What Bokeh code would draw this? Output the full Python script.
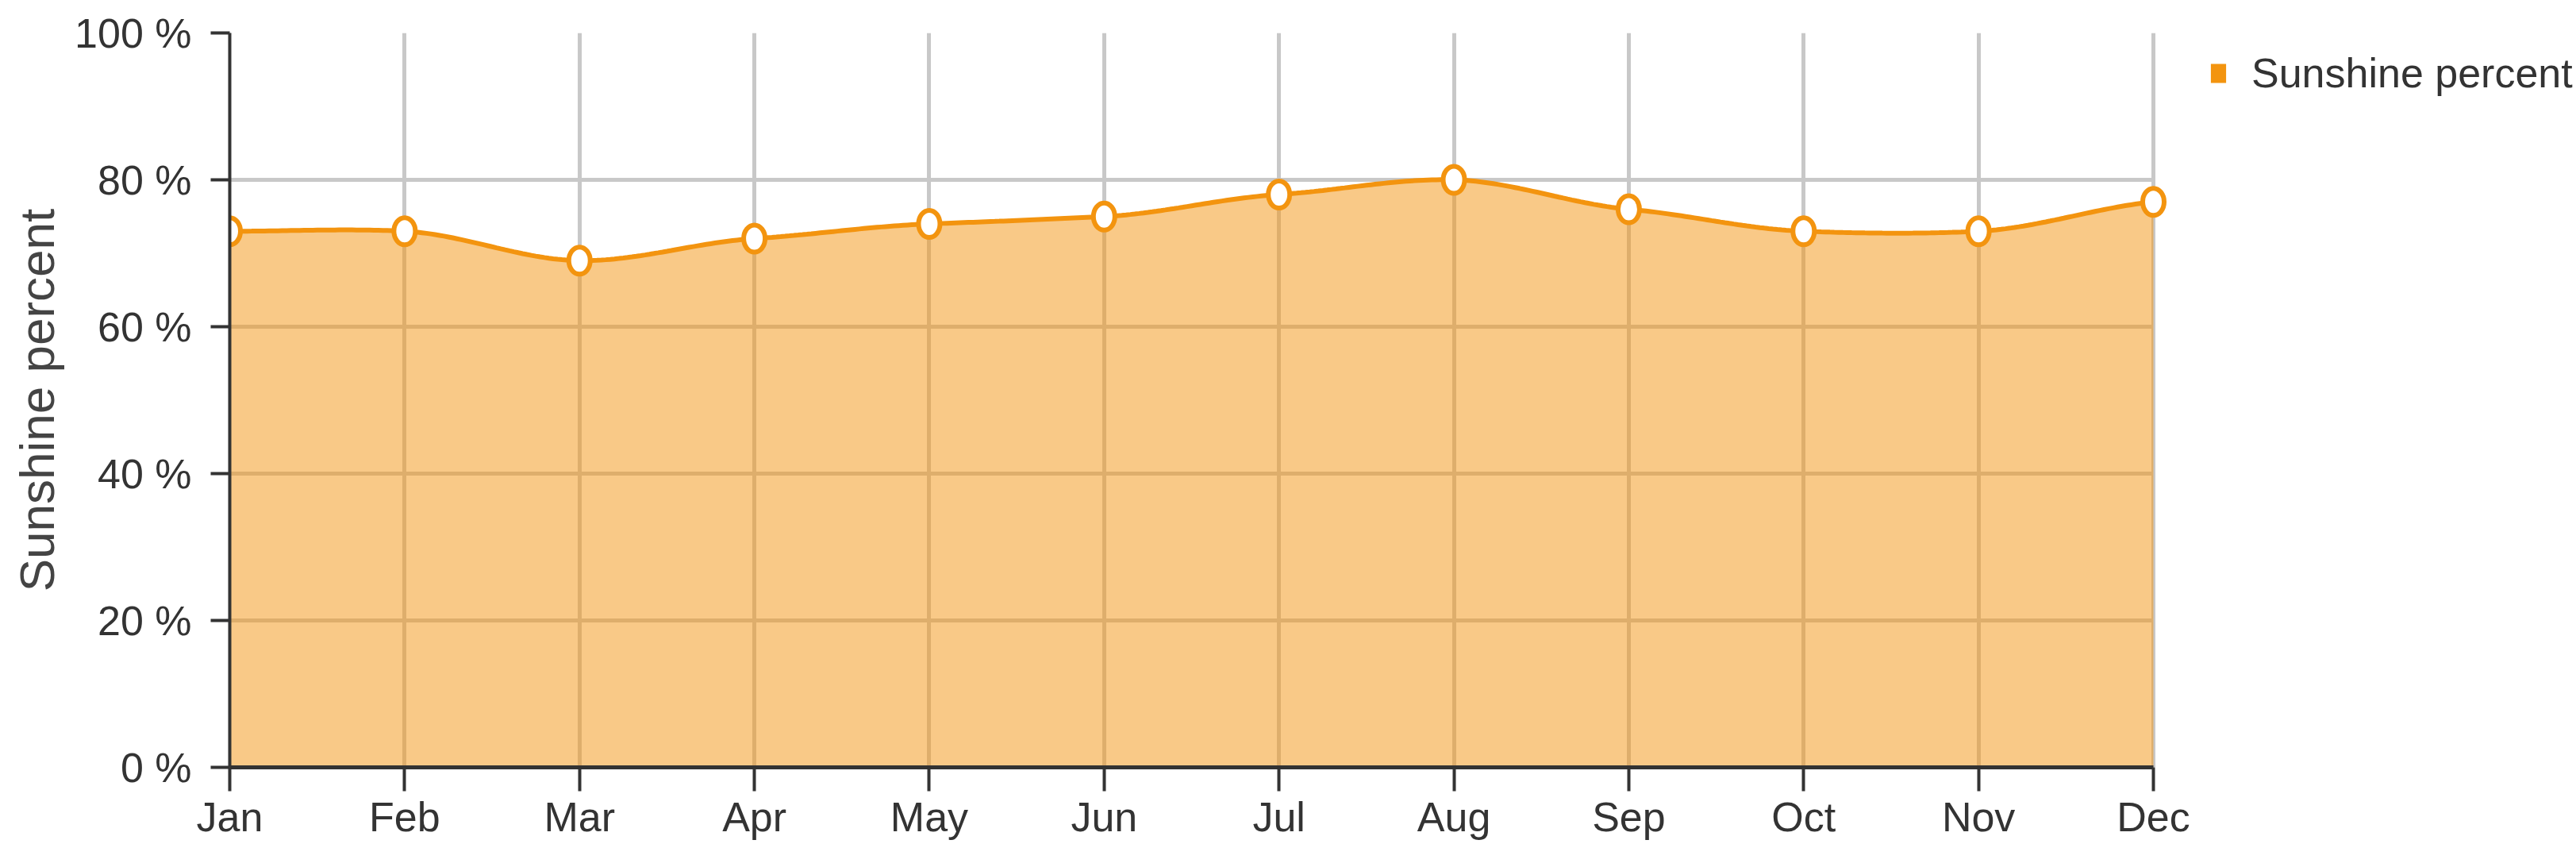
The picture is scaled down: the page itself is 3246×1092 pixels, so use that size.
import numpy as np
from bokeh.plotting import figure
from bokeh.models import (Range1d, FixedTicker, PrintfTickFormatter, Legend,
                          LegendItem, ColumnDataSource)
from bokeh.embed import file_html
from bokeh.resources import INLINE

# ---- data ----
months = ["Jan", "Feb", "Mar", "Apr", "May", "Jun",
          "Jul", "Aug", "Sep", "Oct", "Nov", "Dec"]
sunshine = [73, 73, 69, 72, 74, 75, 78, 80, 76, 73, 73, 77]
y_ticks = [0, 20, 40, 60, 80, 100]
series_name = "Sunshine percent"
y_title = "Sunshine percent"

ORANGE = "#f3940f"
TEXT = "#333333"
GRID = "#c8c8c8"
FONT = "Liberation Sans"

W, H = 3246, 1092
LEFT, RIGHT_DATA, TOP, BOTTOM = 289, 2713, 41, 966   # pixel layout of the plot area

x = np.arange(len(months), dtype=float)
y = np.array(sunshine, dtype=float)
last = float(len(months) - 1)
# the frame runs to the right edge so the legend (inside the frame) is not clipped
x_end = last * (W - LEFT) / (RIGHT_DATA - LEFT)


def spline(xs, ys, n=40, k=0.6):
    """Cubic Hermite curve through the data points (softened Catmull-Rom)."""
    m = np.zeros_like(ys)
    m[1:-1] = k * (ys[2:] - ys[:-2]) / (xs[2:] - xs[:-2])
    m[0] = k * (ys[1] - ys[0]) / (xs[1] - xs[0])
    m[-1] = k * (ys[-1] - ys[-2]) / (xs[-1] - xs[-2])
    ox, oy = [], []
    for i in range(len(xs) - 1):
        h = xs[i + 1] - xs[i]
        t = np.linspace(0, 1, n, endpoint=(i == len(xs) - 2))
        h00 = 2 * t**3 - 3 * t**2 + 1
        h10 = t**3 - 2 * t**2 + t
        h01 = -2 * t**3 + 3 * t**2
        h11 = t**3 - t**2
        ox.extend(xs[i] + t * h)
        oy.extend(h00 * ys[i] + h10 * h * m[i] + h01 * ys[i + 1] + h11 * h * m[i + 1])
    return np.array(ox), np.array(oy)


sx, sy = spline(x, y)
curve = ColumnDataSource(dict(x=sx, y=sy))
pts = ColumnDataSource(dict(x=x, y=y))

p = figure(width=W, height=H, output_backend="svg", toolbar_location=None,
           x_range=Range1d(0, x_end), y_range=Range1d(0, 100),
           min_border_left=LEFT, min_border_right=0,
           min_border_top=TOP, min_border_bottom=H - BOTTOM)
p.outline_line_color = None
p.background_fill_color = "white"
p.border_fill_color = "white"

# grid
p.xgrid.ticker = FixedTicker(ticks=list(x))
p.ygrid.ticker = FixedTicker(ticks=y_ticks)
p.ygrid.cross_bounds = (0, last)
for g in (p.xgrid, p.ygrid):
    g.grid_line_color = GRID
    g.grid_line_width = 5

# area, line, markers
p.varea(x="x", y1=0, y2="y", source=curve, fill_color=ORANGE, fill_alpha=0.5)
p.line(x="x", y="y", source=curve, line_color=ORANGE, line_width=6)
p.ellipse(x="x", y="y", width=27, height=34, width_units="screen",
          height_units="screen", source=pts, fill_color="white",
          line_color=ORANGE, line_width=6)

# axes
p.xaxis.ticker = FixedTicker(ticks=list(x))
p.xaxis.bounds = (0, last)
p.xaxis.major_label_overrides = {i: m for i, m in enumerate(months)}
p.yaxis.ticker = FixedTicker(ticks=y_ticks)
p.yaxis.formatter = PrintfTickFormatter(format="%d %%")
p.yaxis.axis_label = y_title

for ax in (p.xaxis, p.yaxis):
    ax.axis_line_color = TEXT
    ax.major_tick_line_color = TEXT
    ax.minor_tick_line_color = None
    ax.major_tick_in = 0
    ax.major_label_text_font = FONT
    ax.major_label_text_font_size = "52px"
    ax.major_label_text_color = TEXT
p.xaxis.axis_line_width = 5
p.xaxis.major_tick_line_width = 4
p.xaxis.major_tick_out = 30
p.xaxis.major_label_standoff = 3
p.yaxis.axis_line_width = 4
p.yaxis.major_tick_line_width = 4
p.yaxis.major_tick_out = 24
p.yaxis.major_label_standoff = 24
p.yaxis.axis_label_text_font = FONT
p.yaxis.axis_label_text_font_size = "62px"
p.yaxis.axis_label_text_font_style = "normal"
p.yaxis.axis_label_text_color = "#444444"
p.yaxis.axis_label_standoff = 10

# legend key: a zero-size quad (nothing visible in the plot) drawn solid orange in the legend
key = p.quad(left=[x[0]], right=[x[0]], top=[0], bottom=[0],
             fill_color=ORANGE, line_color=None)
legend = Legend(items=[LegendItem(label=series_name, renderers=[key])],
                location=(2494, 844), orientation="vertical",
                glyph_width=24, glyph_height=30, label_standoff=30,
                label_text_font=FONT, label_text_font_size="52px",
                label_text_color=TEXT, padding=0, margin=0, spacing=0,
                border_line_color=None, background_fill_alpha=0)
p.add_layout(legend)

open("out.html", "w").write(file_html(p, INLINE))
